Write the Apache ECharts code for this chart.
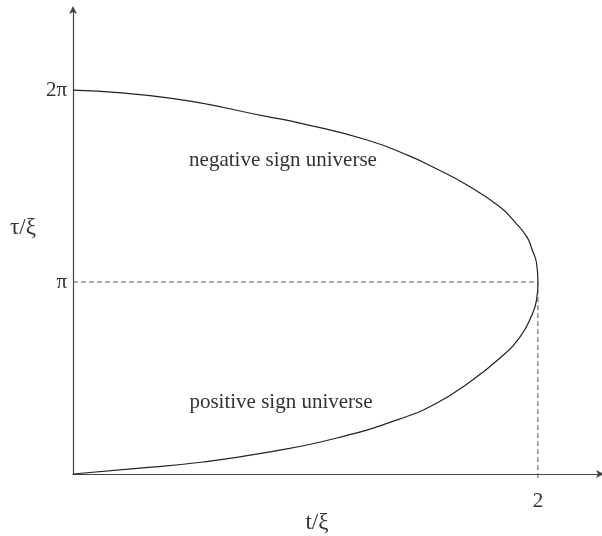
<!DOCTYPE html>
<html>
<head>
<meta charset="utf-8">
<script src="https://cdn.jsdelivr.net/npm/echarts@6/dist/echarts.min.js"></script>
<style>html,body{margin:0;padding:0;background:#fff}#c{width:602px;height:536px}</style>
</head>
<body>
<div id="c"></div>
<script>
// t/ξ values and τ/ξ values (in units of π)
const curveT   = [0, 0.275, 0.559, 0.847, 1.135, 1.419, 1.566, 1.695, 1.837, 1.923, 1.974, 1.994, 2.0, 1.994, 1.974, 1.953, 1.901, 1.837, 1.695, 1.548, 1.449, 1.265, 0.976, 0.847, 0.417, 0];
const curveTau = [0, 0.029, 0.0625, 0.115, 0.1875, 0.292, 0.370, 0.469, 0.604, 0.714, 0.828, 0.906, 1.0, 1.099, 1.172, 1.234, 1.3125, 1.391, 1.505, 1.599, 1.656, 1.740, 1.828, 1.859, 1.958, 2.0];
const guideT   = [0, 2, 2];
const guideTau = [1, 1, -0.037];
const xTickLabels = {2: '2'};
const yTickLabels = {1: 'π', 2: '2π'};
const regionLabels = ['negative sign universe', 'positive sign universe'];
const xName = 't/ξ';
const yName = 'τ/ξ';

const font = 'Liberation Serif, Times New Roman, serif';
const chart = echarts.init(document.getElementById('c'), null, {renderer: 'canvas'});
chart.setOption({
  animation: false,
  backgroundColor: '#fff',
  grid: {left: 73, right: 2, top: 10, bottom: 62, containLabel: false},
  xAxis: {
    type: 'value', min: 0, max: 2.267, interval: 2,
    splitLine: {show: false},
    axisTick: {show: false},
    axisLine: {lineStyle: {color: '#444', width: 1.2}, symbol: ['none', 'arrow'], symbolSize: [6, 8], symbolOffset: [0, 4]},
    axisLabel: {formatter: v => xTickLabels[v] || '', fontFamily: font, fontSize: 21, color: '#333', margin: 17, showMaxLabel: false}
  },
  yAxis: {
    type: 'value', min: 0, max: 2.417, interval: 1,
    splitLine: {show: false},
    axisTick: {show: false},
    axisLine: {lineStyle: {color: '#444', width: 1.2}, symbol: ['none', 'arrow'], symbolSize: [6, 8], symbolOffset: [0, 4]},
    axisLabel: {formatter: v => yTickLabels[v] || '', fontFamily: font, fontSize: 21, color: '#333', margin: 6, showMaxLabel: false}
  },
  graphic: [
    {type: 'text', x: 283, y: 160, style: {text: regionLabels[0], font: '21px ' + font, fill: '#333', textAlign: 'center', textVerticalAlign: 'middle'}, z: 10},
    {type: 'text', x: 281, y: 402, style: {text: regionLabels[1], font: '21px ' + font, fill: '#333', textAlign: 'center', textVerticalAlign: 'middle'}, z: 10},
    {type: 'text', x: 317, y: 523, style: {text: xName, font: '23px ' + font, fill: '#333', textAlign: 'center', textVerticalAlign: 'middle'}, z: 10},
    {type: 'text', x: 23, y: 228, style: {text: yName, font: '23px ' + font, fill: '#333', textAlign: 'center', textVerticalAlign: 'middle'}, z: 10}
  ],
  series: [
    {
      type: 'line', data: curveT.map((t, i) => [t, curveTau[i]]),
      smooth: 0.5, showSymbol: false, clip: false,
      lineStyle: {color: '#222', width: 1.2}
    },
    {
      type: 'line', data: guideT.map((t, i) => [t, guideTau[i]]),
      showSymbol: false, clip: false,
      lineStyle: {color: '#555', width: 1, type: [5, 3]}
    }
  ]
});
</script>
</body>
</html>
